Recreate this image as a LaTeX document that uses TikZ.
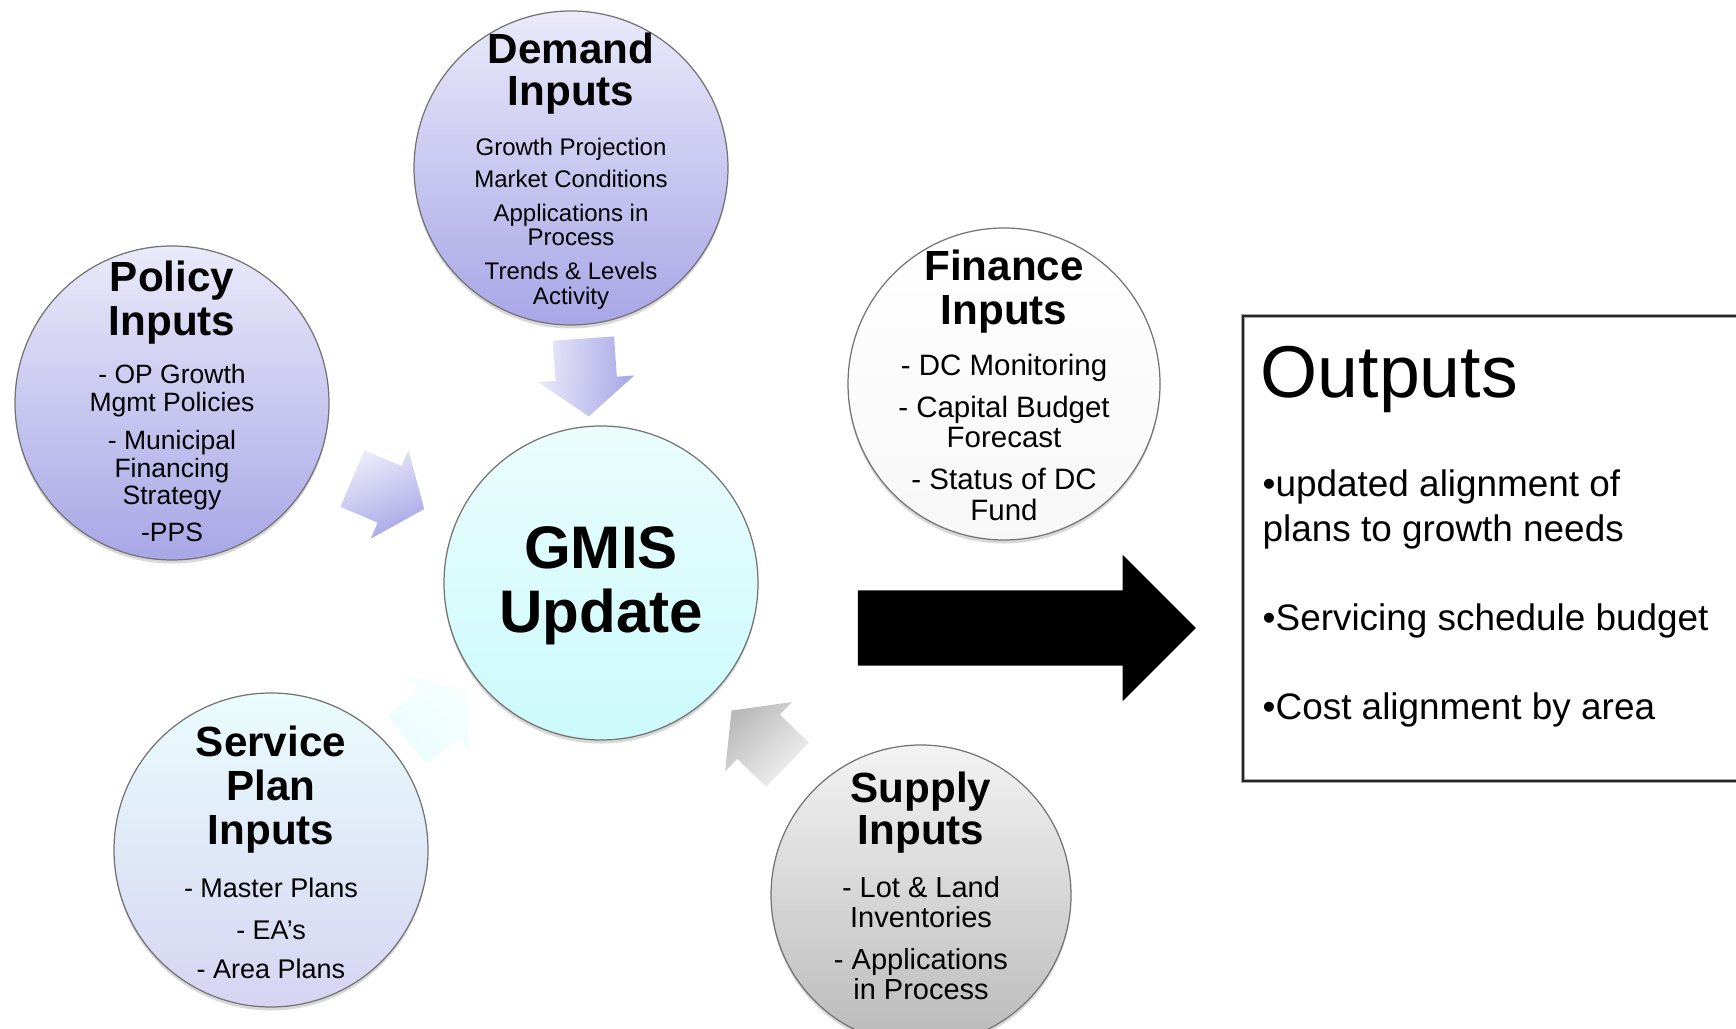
\documentclass[tikz,border=0pt]{standalone}
\usepackage{fontspec}
\setmainfont{Liberation Sans}
\usetikzlibrary{positioning,calc,shapes.arrows,shadows}

\newlength\pxu
\setlength\pxu{0.1mm}
\newcommand\tightlines{\baselineskip=0pt\lineskiplimit=-\maxdimen\lineskip=0pt}
\newcommand\hd{\fontsize{12}{0}\selectfont\bfseries}

\definecolor{lavtop}{RGB}{234,234,250}
\definecolor{lavbot}{RGB}{168,166,230}
\definecolor{cyantop}{RGB}{234,253,253}
\definecolor{cyanbot}{RGB}{204,250,251}
\definecolor{svcbot}{RGB}{214,212,242}
\definecolor{graytop}{RGB}{243,243,243}
\definecolor{graybot}{RGB}{186,186,186}

\tikzset{
  ball/.style={circle, minimum size=3.14cm, inner sep=0pt, draw=black!55, line width=0.35pt,
    drop shadow={shadow xshift=0pt, shadow yshift=-1pt, opacity=0.3}},
  blurb/.style={align=center, inner sep=0pt},
  flow/.style={single arrow, minimum height=0.78cm, inner xsep=0pt, inner ysep=0.3cm,
    single arrow head extend=0.175cm, single arrow tip angle=104},
}

\begin{document}
\begin{tikzpicture}
  \clip (0,0) rectangle (17.36,10.28);
  \fill[white] (0,0) rectangle (17.36,10.28);

  % input circles round the update
  \node[ball, top color=lavtop, bottom color=lavbot] (dem) at (5.71,8.60) {};
  \node[ball, top color=lavtop, bottom color=lavbot] (pol) at (1.72,6.25) {};
  \node[ball, top color=white, bottom color=white!97!black, minimum size=3.12cm] (fin) at (10.04,6.44) {};
  \node[ball, top color=cyantop, bottom color=cyanbot] (gmis) at (6.01,4.45) {};
  \node[ball, top color=cyantop, bottom color=svcbot] (srv) at (2.71,1.78) {};
  \node[ball, top color=graytop, bottom color=graybot, minimum size=3.0cm] (sup) at (9.21,1.33) {};

  \node[blurb, below=0.22cm of dem.north, font=\fontsize{6.83}{0}\selectfont\tightlines] (demt)
    {{\hd Demand}\\[42\pxu]{\hd Inputs}\\[50\pxu]Growth Projection\\[32\pxu]Market Conditions\\[34\pxu]Applications in\\[24\pxu]Process\\[34\pxu]Trends \& Levels\\[25\pxu]Activity};
  \node[blurb, below=0.15cm of pol.north, font=\fontsize{7.54}{0}\selectfont\tightlines] (polt)
    {{\hd Policy}\\[44\pxu]{\hd Inputs}\\[48\pxu]- OP Growth\\[28\pxu]Mgmt Policies\\[38\pxu]- Municipal\\[28\pxu]Financing\\[27\pxu]Strategy\\[37\pxu]-PPS};
  \node[blurb, below=0.22cm of fin.north, font=\fontsize{8.39}{0}\selectfont\tightlines] (fint)
    {{\hd Finance}\\[44\pxu]{\hd Inputs}\\[51\pxu]- DC Monitoring\\[42\pxu]- Capital Budget\\[30\pxu]Forecast\\[42\pxu]- Status of DC\\[31\pxu]Fund};
  \node[blurb, below=0.33cm of srv.north, font=\fontsize{7.68}{0}\selectfont\tightlines] (srvt)
    {{\hd Service}\\[44\pxu]{\hd Plan}\\[44\pxu]{\hd Inputs}\\[53\pxu]- Master Plans\\[42\pxu]- EA’s\\[39\pxu]- Area Plans};
  \node[blurb, below=0.27cm of sup.north, font=\fontsize{8.25}{0}\selectfont\tightlines] (supt)
    {{\hd Supply}\\[42\pxu]{\hd Inputs}\\[53\pxu]- Lot \& Land\\[30\pxu]Inventories\\[42\pxu]- Applications\\[30\pxu]in Process};
  \node[blurb, font=\fontsize{17.1}{0}\selectfont\bfseries\tightlines] (gmist) at ([yshift=-0.03cm]gmis.center) {GMIS\\[64\pxu]Update};

  % arrows into the update, set back a little so they sit mid-gap
  \node[flow, top color=lavtop, bottom color=lavbot, shading angle=86, rotate=-86] (a1) at ($(dem)!.5!(gmis)!0.1cm!(dem)$) {};
  \node[flow, top color=lavtop, bottom color=lavbot, shading angle=23, rotate=-23] (a2) at ($(pol)!.5!(gmis)!0.1cm!(pol)$) {};
  \node[flow, top color=white!60!cyantop, bottom color=cyantop, shading angle=-39, rotate=39] (a3) at ($(srv)!.5!(gmis)!0.1cm!(srv)$) {};
  \node[flow, top color=graytop, bottom color=graybot, shading angle=-136, rotate=136] (a4) at ($(sup)!.5!(gmis)!0.1cm!(sup)$) {};

  % outputs
  \node[single arrow, fill=black, minimum height=3.38cm, inner xsep=0pt, inner ysep=0.37cm,
    single arrow head extend=0.355cm] (bigarr) at (10.08,4.00) {};
  \node[draw=black!85, line width=0.6pt, preaction={draw=black!35, line width=1.3pt},
    anchor=north west, minimum width=5.4cm, minimum height=4.65cm, inner sep=0pt] (outb) at (12.42,7.13) {};
  \node[anchor=base west, inner sep=0pt, font=\fontsize{20.9}{25}\selectfont] (outt)
    at ([xshift=0.18cm, yshift=-0.83cm]outb.north west) {Outputs};
  \node[anchor=north west, align=left, inner sep=0pt, font=\fontsize{10.5}{0}\selectfont\tightlines] (outl)
    at ([xshift=0.20cm, yshift=-1.54cm]outb.north west)
    {•updated alignment of\\[45\pxu]plans to growth needs\\[89\pxu]•Servicing schedule budget\\[89\pxu]•Cost alignment by area};
\end{tikzpicture}
\end{document}
